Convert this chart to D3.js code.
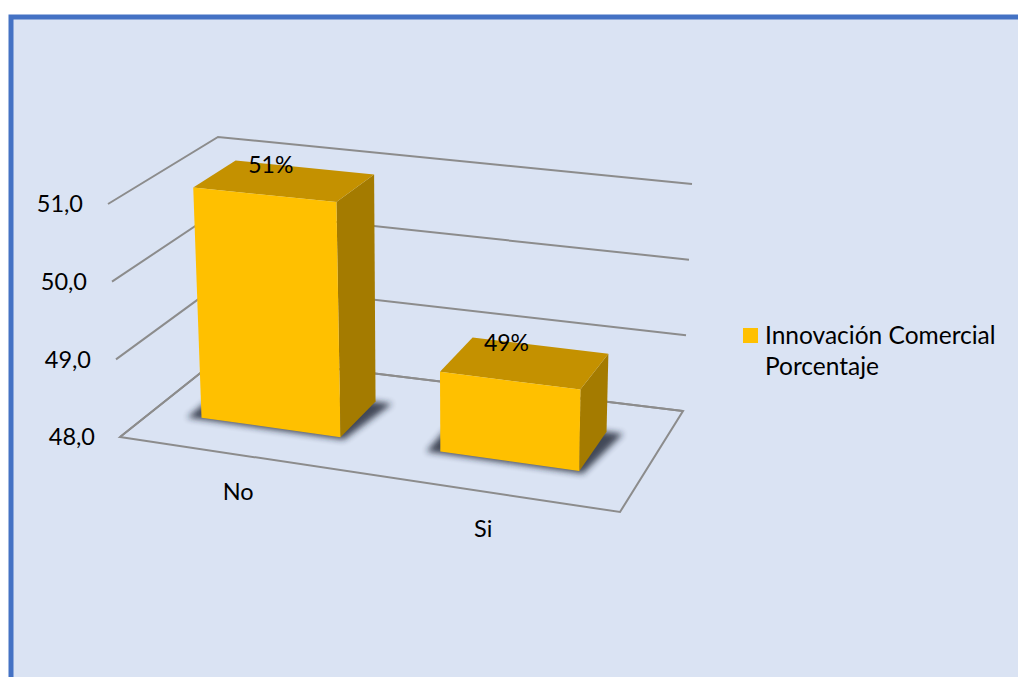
<!DOCTYPE html>
<html>
<head>
<meta charset="utf-8">
<script src="https://cdn.jsdelivr.net/npm/d3@7"></script>
<style>
  html, body { margin: 0; padding: 0; background: #ffffff; }
  svg { display: block; }
  text { font-family: Lato, "Open Sans", sans-serif; fill: #000; }
</style>
</head>
<body>
<svg id="chart" width="1018" height="677"></svg>
<script>
// Chart data
const categories = ["No", "Si"];
const values = [51, 49];
const valueLabels = ["51%", "49%"];
const yTicks = [48, 49, 50, 51];
const tickLabels = ["48,0", "49,0", "50,0", "51,0"];
const seriesName = ["Innovación Comercial", "Porcentaje"];

const W = 1018, H = 677;
const svg = d3.select("#chart");

// Frame: light blue panel with a blue border
svg.append("rect").attr("x", 11).attr("y", 17).attr("width", W + 20).attr("height", H + 20)
  .attr("fill", "#dae3f3").attr("stroke", "#4472c4").attr("stroke-width", 5);

// World space: u along categories [0,1], v along values [0,1], w depth front->back [0,1].
// The box corners on screen define a 3D view; points inside are blended trilinearly.
const box = {
  floor: { fl: [120, 437], fr: [620, 512], bl: [223, 355], br: [683, 411] },
  top:   { fl: [108, 204], fr: [623, 256], bl: [218, 137], br: [692, 184] }
};
function lerp(a, b, t) { return [a[0] + (b[0] - a[0]) * t, a[1] + (b[1] - a[1]) * t]; }
function plane(p, u, w) {
  return lerp(lerp(p.fl, p.fr, u), lerp(p.bl, p.br, u), w);
}
function project(u, v, w) {
  return lerp(plane(box.floor, u, w), plane(box.top, u, w), v);
}

const x = d3.scaleBand().domain(categories).range([0, 1])
  .paddingInner(0.418).paddingOuter(0.229).align(0.444);
const y = d3.scaleLinear().domain([48, 51]).range([0, 1]);
const depth = [0.32, 0.72];

const line = d3.line();
const gridColor = "#8c8c8c";

// Gridlines on the side and back walls
const grid = svg.append("g").attr("fill", "none").attr("stroke", gridColor).attr("stroke-width", 2);
yTicks.forEach(t => {
  const v = y(t);
  grid.append("path").attr("d", line([project(0, v, 0), project(0, v, 1), project(1, v, 1)]));
});
// Floor outline
grid.append("path").attr("d", line([project(0, 0, 0), project(1, 0, 0), project(1, 0, 1), project(0, 0, 1)]) + "Z");

// Value axis labels
svg.append("g").selectAll("text").data(yTicks).join("text")
  .attr("x", t => project(0, y(t), 0)[0] - 25)
  .attr("y", t => project(0, y(t), 0)[1])
  .attr("dy", "0.36em")
  .attr("text-anchor", "end")
  .attr("font-size", 23.5)
  .text((t, i) => tickLabels[i]);

// Category labels along the front edge of the floor
svg.append("g").selectAll("text").data(categories).join("text")
  .attr("x", c => project(x(c) + x.bandwidth() / 2, 0, 0)[0] - 3)
  .attr("y", c => project(x(c) + x.bandwidth() / 2, 0, 0)[1] + 45)
  .attr("text-anchor", "middle")
  .attr("font-size", 23.5)
  .text(c => c);

// Soft shadow under the bars
const defs = svg.append("defs");
defs.append("filter").attr("id", "soft").attr("x", "-20%").attr("y", "-20%").attr("width", "140%").attr("height", "140%")
  .append("feGaussianBlur").attr("stdDeviation", 3);

const bars = categories.map((c, i) => ({ c, v: values[i], label: valueLabels[i], u0: x(c), u1: x(c) + x.bandwidth() }));

svg.append("g").selectAll("path").data(bars).join("path")
  .attr("d", d => line([
    project(d.u0 - 0.025, 0, depth[0] - 0.02), project(d.u1 + 0.01, 0, depth[0] - 0.02),
    project(d.u1 + 0.035, 0, depth[1]), project(d.u0 - 0.025, 0, depth[1])]) + "Z")
  .attr("fill", "#1a2230").attr("opacity", 0.8).attr("filter", "url(#soft)");

// Bars: right side, top, then front face
const barG = svg.append("g").selectAll("g").data(bars).join("g");
barG.append("path")
  .attr("d", d => { const v = y(d.v); return line([
    project(d.u1, 0, depth[0]), project(d.u1, 0, depth[1]),
    project(d.u1, v, depth[1]), project(d.u1, v, depth[0])]) + "Z"; })
  .attr("fill", "#a47b00");
barG.append("path")
  .attr("d", d => { const v = y(d.v); return line([
    project(d.u0, v, depth[0]), project(d.u1, v, depth[0]),
    project(d.u1, v, depth[1]), project(d.u0, v, depth[1])]) + "Z"; })
  .attr("fill", "#c49100");
barG.append("path")
  .attr("d", d => { const v = y(d.v); return line([
    project(d.u0, 0, depth[0]), project(d.u1, 0, depth[0]),
    project(d.u1, v, depth[0]), project(d.u0, v, depth[0])]) + "Z"; })
  .attr("fill", "#ffc000");

// Value labels near the back edge of each bar top
barG.append("text")
  .attr("x", d => project((d.u0 + d.u1) / 2, y(d.v), depth[1])[0] - 34)
  .attr("y", d => project((d.u0 + d.u1) / 2, y(d.v), depth[1])[1] - 3)
  .attr("dy", "0.36em")
  .attr("text-anchor", "middle")
  .attr("font-size", 23)
  .text(d => d.label);

// Legend
const legend = svg.append("g").attr("transform", "translate(743,328)");
legend.append("rect").attr("width", 15).attr("height", 15).attr("fill", "#ffc000");
legend.selectAll("text").data(seriesName).join("text")
  .attr("x", 22).attr("y", (d, i) => 16 + i * 31)
  .attr("font-size", 24.5)
  .text(d => d);
</script>
</body>
</html>
